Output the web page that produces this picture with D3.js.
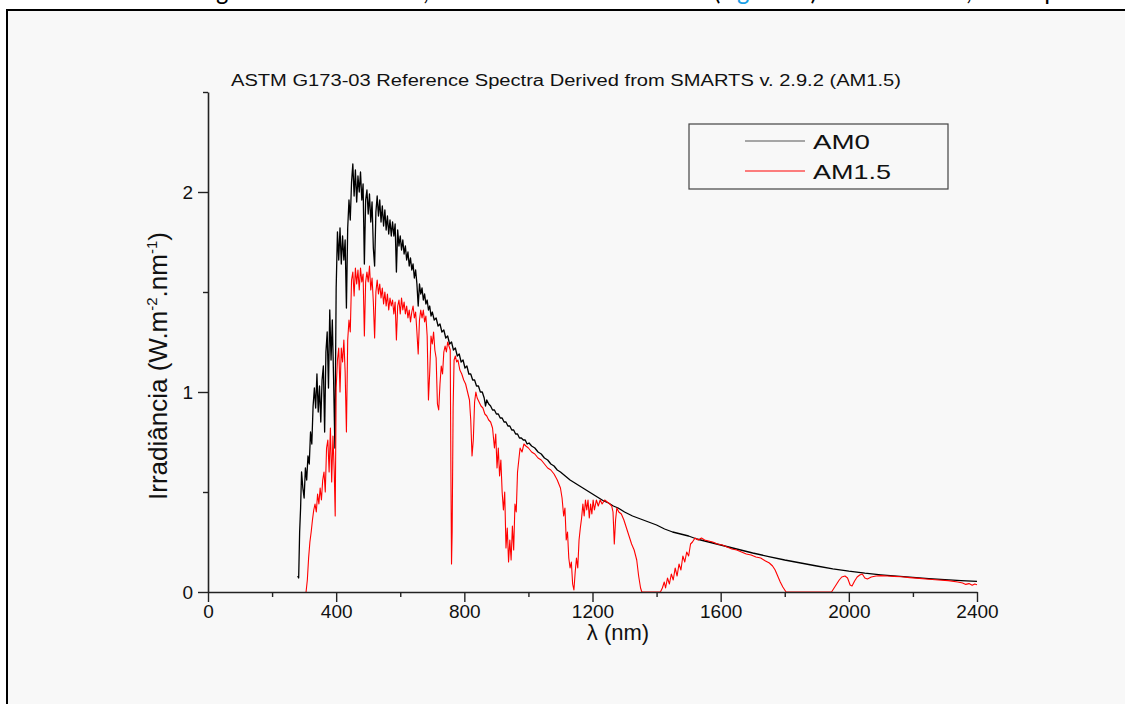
<!DOCTYPE html>
<html><head><meta charset="utf-8">
<script src="https://cdn.jsdelivr.net/npm/d3@7"></script>
<style>body{margin:0;background:#fff}svg{display:block}</style>
</head><body><svg id="c" width="1125" height="704"></svg>
<script>
const am0Spectrum = [[280,0.08],[283,0.07],[286,0.30],[289,0.42],[292,0.60],[296,0.52],[300,0.47],[304,0.62],[308,0.56],[312,0.68],[316,0.64],[320,0.80],[324,0.74],[328,0.93],[332,1.02],[336,0.92],[340,1.09],[344,0.90],[348,1.03],[352,0.85],[356,1.06],[360,1.13],[364,0.80],[368,1.20],[372,1.30],[376,1.02],[380,1.41],[384,1.16],[388,1.36],[392,1.06],[396,0.72],[400,1.52],[404,1.80],[408,1.66],[412,1.82],[416,1.64],[420,1.78],[424,1.66],[428,1.76],[432,1.42],[436,1.82],[440,1.96],[444,1.86],[448,2.05],[452,2.14],[456,1.98],[460,2.11],[464,1.95],[468,2.08],[472,2.00],[476,2.10],[480,1.96],[484,2.04],[488,1.64],[492,1.96],[496,2.01],[500,1.89],[504,1.99],[508,1.85],[512,1.95],[516,1.72],[520,1.63],[524,1.90],[528,1.98],[532,1.88],[536,1.96],[540,1.85],[544,1.93],[548,1.83],[552,1.91],[556,1.81],[560,1.88],[564,1.79],[568,1.86],[572,1.78],[576,1.85],[580,1.78],[584,1.84],[588,1.60],[592,1.81],[596,1.73],[600,1.78],[604,1.71],[608,1.76],[612,1.69],[616,1.73],[620,1.66],[624,1.70],[628,1.63],[632,1.67],[636,1.61],[640,1.64],[644,1.57],[648,1.61],[652,1.54],[656,1.43],[660,1.54],[664,1.49],[668,1.52],[672,1.46],[676,1.49],[680,1.44],[684,1.46],[688,1.41],[692,1.43],[696,1.38],[700,1.40],[706,1.36],[712,1.37],[718,1.33],[724,1.34],[730,1.30],[736,1.31],[742,1.27],[748,1.28],[754,1.24],[760,1.25],[766,1.21],[772,1.22],[778,1.18],[784,1.19],[790,1.15],[796,1.16],[802,1.12],[808,1.13],[814,1.09],[820,1.09],[826,1.06],[832,1.06],[838,1.03],[844,1.03],[850,1.00],[856,1.00],[862,0.97],[866,0.93],[870,0.96],[876,0.94],[882,0.93],[888,0.91],[894,0.91],[900,0.89],[906,0.89],[912,0.87],[918,0.87],[924,0.85],[930,0.85],[936,0.83],[942,0.83],[948,0.81],[954,0.81],[960,0.79],[966,0.79],[972,0.77],[978,0.77],[984,0.76],[990,0.76],[996,0.74],[1002,0.745],[1010,0.73],[1020,0.72],[1030,0.70],[1040,0.69],[1050,0.67],[1060,0.66],[1070,0.64],[1080,0.63],[1090,0.61],[1100,0.60],[1115,0.58],[1130,0.56],[1145,0.545],[1160,0.53],[1175,0.515],[1190,0.50],[1205,0.485],[1220,0.47],[1235,0.455],[1250,0.445],[1265,0.43],[1280,0.42],[1300,0.40],[1325,0.38],[1350,0.365],[1375,0.35],[1400,0.335],[1425,0.315],[1450,0.30],[1475,0.29],[1500,0.28],[1525,0.265],[1550,0.255],[1575,0.245],[1600,0.235],[1650,0.215],[1700,0.195],[1750,0.177],[1800,0.16],[1850,0.145],[1900,0.13],[1950,0.116],[2000,0.104],[2050,0.094],[2100,0.086],[2150,0.079],[2200,0.073],[2250,0.067],[2300,0.062],[2350,0.057],[2400,0.053]];

const am15Spectrum = [[306,0.0],[310,0.06],[314,0.17],[318,0.25],[322,0.30],[326,0.36],[330,0.41],[334,0.44],[338,0.40],[342,0.49],[346,0.44],[350,0.52],[354,0.46],[358,0.56],[362,0.60],[366,0.50],[370,0.72],[374,0.76],[378,0.60],[382,0.82],[386,0.55],[390,0.78],[394,0.60],[397,0.38],[400,1.02],[404,1.16],[408,1.22],[412,1.00],[416,1.22],[420,1.15],[424,1.26],[428,1.10],[432,0.80],[436,1.26],[440,1.36],[444,1.30],[448,1.56],[452,1.60],[456,1.48],[460,1.62],[464,1.54],[468,1.61],[472,1.51],[476,1.62],[480,1.55],[484,1.59],[488,1.28],[492,1.55],[496,1.60],[500,1.55],[504,1.63],[508,1.51],[512,1.57],[516,1.45],[520,1.27],[524,1.50],[528,1.56],[532,1.49],[536,1.54],[540,1.47],[544,1.52],[548,1.44],[552,1.50],[556,1.43],[560,1.49],[564,1.41],[568,1.47],[572,1.43],[576,1.46],[580,1.39],[584,1.45],[588,1.26],[592,1.43],[596,1.46],[600,1.39],[604,1.47],[608,1.41],[612,1.45],[616,1.39],[620,1.43],[624,1.37],[628,1.41],[632,1.35],[636,1.40],[640,1.43],[644,1.37],[648,1.40],[652,1.30],[656,1.19],[660,1.36],[664,1.41],[668,1.37],[672,1.41],[676,1.35],[680,1.38],[684,1.28],[688,0.96],[692,1.10],[696,1.28],[700,1.24],[704,1.30],[708,1.21],[712,1.17],[716,0.94],[720,0.91],[724,1.04],[728,1.13],[732,1.09],[736,1.20],[740,1.23],[744,1.20],[748,1.25],[752,1.23],[756,1.21],[758,0.62],[760,0.14],[762,0.30],[765,0.92],[768,1.16],[772,1.18],[776,1.15],[780,1.16],[786,1.11],[792,1.09],[798,1.06],[804,1.04],[810,1.00],[816,0.96],[820,0.86],[824,0.68],[828,0.76],[832,0.95],[836,1.00],[840,0.97],[846,0.95],[852,0.93],[858,0.92],[864,0.89],[870,0.88],[876,0.86],[882,0.85],[888,0.82],[894,0.72],[898,0.79],[902,0.62],[906,0.72],[910,0.58],[914,0.66],[918,0.50],[922,0.41],[926,0.50],[930,0.22],[934,0.32],[938,0.15],[942,0.26],[946,0.16],[950,0.33],[954,0.21],[958,0.44],[962,0.40],[966,0.60],[970,0.66],[974,0.72],[980,0.70],[986,0.74],[992,0.73],[1000,0.72],[1010,0.70],[1020,0.69],[1030,0.67],[1040,0.66],[1050,0.64],[1060,0.62],[1070,0.61],[1080,0.59],[1090,0.56],[1100,0.52],[1105,0.47],[1110,0.38],[1114,0.42],[1118,0.26],[1122,0.30],[1126,0.17],[1130,0.12],[1134,0.15],[1138,0.04],[1142,0.01],[1146,0.10],[1150,0.17],[1154,0.12],[1158,0.26],[1162,0.32],[1166,0.37],[1170,0.44],[1174,0.38],[1178,0.46],[1182,0.41],[1186,0.46],[1190,0.37],[1194,0.44],[1198,0.39],[1202,0.46],[1206,0.41],[1212,0.46],[1218,0.43],[1224,0.46],[1230,0.44],[1238,0.46],[1246,0.45],[1254,0.44],[1260,0.43],[1264,0.40],[1268,0.24],[1272,0.36],[1276,0.42],[1282,0.40],[1290,0.39],[1298,0.36],[1306,0.32],[1314,0.28],[1322,0.24],[1330,0.21],[1338,0.16],[1344,0.08],[1350,0.02],[1354,0.0],[1412,0.0],[1418,0.02],[1424,0.05],[1428,0.02],[1434,0.07],[1440,0.04],[1446,0.09],[1452,0.06],[1458,0.12],[1464,0.08],[1470,0.14],[1476,0.11],[1482,0.18],[1488,0.15],[1494,0.20],[1500,0.18],[1506,0.24],[1512,0.25],[1520,0.27],[1530,0.26],[1540,0.27],[1550,0.26],[1562,0.255],[1575,0.25],[1590,0.24],[1605,0.235],[1620,0.225],[1635,0.215],[1650,0.21],[1665,0.20],[1680,0.19],[1695,0.185],[1710,0.175],[1725,0.17],[1740,0.155],[1752,0.145],[1762,0.13],[1770,0.11],[1778,0.08],[1786,0.05],[1794,0.025],[1804,0.0],[1946,0.0],[1954,0.02],[1962,0.04],[1970,0.06],[1978,0.075],[1988,0.08],[1996,0.07],[2004,0.035],[2010,0.03],[2018,0.055],[2026,0.075],[2034,0.085],[2042,0.09],[2050,0.07],[2058,0.065],[2070,0.075],[2085,0.08],[2100,0.082],[2120,0.08],[2140,0.078],[2165,0.076],[2190,0.072],[2220,0.068],[2250,0.064],[2280,0.06],[2310,0.057],[2340,0.05],[2355,0.045],[2365,0.038],[2375,0.042],[2385,0.034],[2393,0.04],[2400,0.036]];

const seriesNames = ["AM0", "AM1.5"];
const seriesColors = ["#000000", "#ff0000"];
const xTickValues = [0, 400, 800, 1200, 1600, 2000, 2400];
const xMinorTickValues = [200, 600, 1000, 1400, 1800, 2200];
const yTickValues = [0, 1, 2];
const yMinorTickValues = [0.5, 1.5, 2.5];
const titleText = "ASTM G173-03 Reference Spectra Derived from SMARTS v. 2.9.2 (AM1.5)";
const xTitle = "λ (nm)";
const topGlyphs = ["g", ",", "(", "g", ")", ",", "p"];

const FONT = "'Liberation Sans', Arial, sans-serif";
const svg = d3.select("#c");

// cropped line of document text above the figure (only the descenders are visible in the reference)
const glyphX = [222, 426, 717, 743, 814, 969, 1051];
const glyphColor = ["#000", "#000", "#000", "#1aa0e6", "#000", "#000", "#000"];
svg.selectAll("text.top").data(topGlyphs).join("text")
  .attr("class", "top")
  .attr("x", (d, i) => glyphX[i]).attr("y", 0)
  .attr("text-anchor", "middle")
  .style("font-family", "Calibri, 'Liberation Sans', sans-serif")
  .style("font-size", "26px")
  .attr("fill", (d, i) => glyphColor[i])
  .text(d => d);

// frame
svg.append("rect").attr("x", 7).attr("y", 10).attr("width", 1140).attr("height", 720)
  .attr("fill", "#f8f8f8").attr("stroke", "#000").attr("stroke-width", 2);

const x = d3.scaleLinear().domain([0, 2400]).range([208, 977]);
const y = d3.scaleLinear().domain([0, 2.5]).range([592, 92]);

// title
svg.append("text").attr("x", 231).attr("y", 86)
  .style("font-family", FONT).style("font-size", "16px").attr("fill", "#111")
  .attr("textLength", 670).attr("lengthAdjust", "spacingAndGlyphs")
  .text(titleText);

// series
const line = d3.line().x(d => x(d[0])).y(d => y(d[1]));
const data = [am0Spectrum, am15Spectrum];
svg.selectAll("path.series").data(data).join("path")
  .attr("class", "series")
  .attr("d", line)
  .attr("fill", "none")
  .attr("stroke", (d, i) => seriesColors[i])
  .attr("stroke-width", (d, i) => i === 0 ? 1.3 : 1.1)
  .attr("stroke-linejoin", "round");

// axes
const axisColor = "#222";
const gx = svg.append("g").attr("transform", `translate(0,${y(0)})`)
  .call(d3.axisBottom(x).tickValues(xTickValues).tickSize(10).tickSizeOuter(0).tickFormat(d3.format("d")));
const gxm = svg.append("g").attr("transform", `translate(0,${y(0)})`)
  .call(d3.axisBottom(x).tickValues(xMinorTickValues).tickSize(5).tickSizeOuter(0).tickFormat(""));
gxm.select(".domain").remove();
const gy = svg.append("g").attr("transform", `translate(${x(0)},0)`)
  .call(d3.axisLeft(y).tickValues(yTickValues).tickSize(10).tickSizeOuter(0).tickFormat(d3.format("d")));
const gym = svg.append("g").attr("transform", `translate(${x(0)},0)`)
  .call(d3.axisLeft(y).tickValues(yMinorTickValues).tickSize(5).tickSizeOuter(0).tickFormat(""));
gym.select(".domain").remove();
[gx, gxm, gy, gym].forEach(g => {
  g.selectAll(".domain").attr("stroke", axisColor).attr("stroke-width", 1.6);
  g.selectAll(".tick line").attr("stroke", axisColor).attr("stroke-width", 1.4);
  g.selectAll(".tick text").attr("fill", "#111").style("font-family", FONT).style("font-size", "19px");
});
gx.selectAll(".tick text").attr("y", 13).attr("dy", "0.71em");
gy.selectAll(".tick text").attr("x", -15).attr("dy", "0.35em");

// axis titles
svg.append("text").attr("x", 618).attr("y", 640).attr("text-anchor", "middle")
  .style("font-family", FONT).style("font-size", "22px").attr("fill", "#111")
  .text(xTitle);

const yt = svg.append("text").attr("transform", "translate(167,366) rotate(-90)")
  .attr("text-anchor", "middle")
  .style("font-family", FONT).style("font-size", "26px").attr("fill", "#111");
yt.append("tspan").text("Irradiância (W.m");
yt.append("tspan").attr("dy", -10).style("font-size", "15px").text("-2");
yt.append("tspan").attr("dy", 10).text(".nm");
yt.append("tspan").attr("dy", -10).style("font-size", "15px").text("-1");
yt.append("tspan").attr("dy", 10).text(")");

// legend
const lg = svg.append("g");
lg.append("rect").attr("x", 689).attr("y", 124).attr("width", 259).attr("height", 65)
  .attr("fill", "none").attr("stroke", "#444").attr("stroke-width", 1.2);
const legendY = [141, 171];
const legendLen = [57, 78];
seriesNames.forEach((name, i) => {
  lg.append("line").attr("x1", 745).attr("x2", 805).attr("y1", legendY[i]).attr("y2", legendY[i])
    .attr("stroke", i === 0 ? "#555" : seriesColors[i]).attr("stroke-width", 1);
  lg.append("text").attr("x", 813).attr("y", legendY[i] + 8)
    .style("font-family", FONT).style("font-size", "21px").attr("fill", "#111")
    .attr("textLength", legendLen[i]).attr("lengthAdjust", "spacingAndGlyphs")
    .text(name);
});
</script></body></html>
